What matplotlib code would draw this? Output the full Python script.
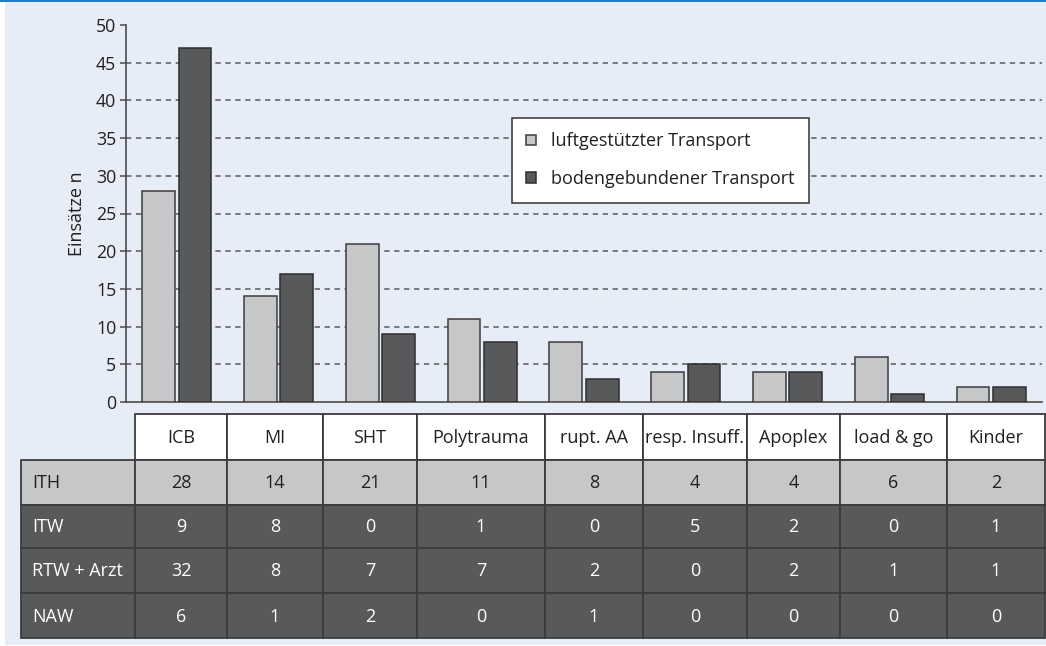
import matplotlib
matplotlib.use("Agg")
import matplotlib.pyplot as plt
from matplotlib.patches import Rectangle
import numpy as np

plt.rcParams['font.family'] = ['Open Sans', 'DejaVu Sans']

# Diagnoses and transport counts
categories = ["ICB", "MI", "SHT", "Polytrauma", "rupt. AA", "resp. Insuff.",
              "Apoplex", "load & go", "Kinder"]
ith = [28, 14, 21, 11, 8, 4, 4, 6, 2]
itw = [9, 8, 0, 1, 0, 5, 2, 0, 1]
rtw_arzt = [32, 8, 7, 7, 2, 0, 2, 1, 1]
naw = [6, 1, 2, 0, 1, 0, 0, 0, 0]
row_labels = ["ITH", "ITW", "RTW + Arzt", "NAW"]
series_labels = ["luftgestützter Transport", "bodengebundener Transport"]
yticks = [0, 5, 10, 15, 20, 25, 30, 35, 40, 45, 50]

air = np.array(ith)
ground = np.array(itw) + np.array(rtw_arzt) + np.array(naw)

W, H = 1046, 646
LIGHT = "#c6c7c9"
DARK = "#58595b"
BG = "#e6edf7"
EDGE = "#3c3c3e"
TXT = "#231f20"

fig = plt.figure(figsize=(W / 100, H / 100), dpi=100)
fig.patch.set_facecolor("white")

# Panel background and top rule (pixel coordinates)
canvas = fig.add_axes([0, 0, 1, 1], zorder=0)
canvas.set_xlim(0, W)
canvas.set_ylim(H, 0)
canvas.axis("off")
canvas.add_patch(Rectangle((5, 2), W - 5, H - 3, facecolor=BG, edgecolor="none"))
canvas.add_patch(Rectangle((0, 0), W, 2.2, facecolor="#1f7bc4", edgecolor="none"))

# Bar chart
ax = fig.add_axes([126 / W, 1 - 402 / H, (1042 - 126) / W, (402 - 25) / H], zorder=1)
ax.patch.set_alpha(0)
x = np.arange(len(categories))
bw = 0.322
off = 0.178
ax.bar(x - off, air, bw, color=LIGHT, edgecolor=EDGE, linewidth=1.1,
       label=series_labels[0], zorder=3)
ax.bar(x + off, ground, bw, color=DARK, edgecolor="#2e2e30", linewidth=1.1,
       label=series_labels[1], zorder=3)
ax.set_xlim(-0.5, len(categories) - 0.5)
ax.set_ylim(0, 50)
ax.set_yticks(yticks)
ax.set_xticks([])
for v in yticks[1:-1]:
    ax.axhline(v, color="#58595b", linewidth=1.1, linestyle=(0, (3.5, 3.0)), zorder=1)
for s in ["top", "right"]:
    ax.spines[s].set_visible(False)
for s in ["left", "bottom"]:
    ax.spines[s].set_color("#4a4a4c")
    ax.spines[s].set_linewidth(1.2)
ax.tick_params(axis="y", length=4, width=1.1, color="#4a4a4c", pad=3,
               labelsize=12.8, labelcolor=TXT)
ax.set_ylabel("Einsätze n", fontsize=13, color=TXT, labelpad=7)

leg = ax.legend(loc="upper left", bbox_to_anchor=((512 - 126) / (1042 - 126), (402 - 118) / (402 - 25)),
                frameon=True, fancybox=False, fontsize=13, handlelength=0.55,
                handleheight=0.55, handletextpad=0.8, labelspacing=1.1,
                borderpad=0.8, borderaxespad=0)
leg.get_frame().set_edgecolor("#333333")
leg.get_frame().set_linewidth(1.1)
leg.get_frame().set_facecolor("white")
leg.get_frame().set_alpha(1)
for t in leg.get_texts():
    t.set_color(TXT)
leg.set_zorder(5)

# Table below the chart
col_edges = [135, 227, 323, 417, 545, 643, 747, 840, 947, 1045]
row_edges = [414, 460, 505, 548, 593, 638]
label_left = 21
rows = [ith, itw, rtw_arzt, naw]
tab = fig.add_axes([0, 0, 1, 1], zorder=2)
tab.set_xlim(0, W)
tab.set_ylim(H, 0)
tab.axis("off")
lw = 1.3
fs = 13

for j, name in enumerate(categories):
    x0, x1 = col_edges[j], col_edges[j + 1]
    y0, y1 = row_edges[0], row_edges[1]
    tab.add_patch(Rectangle((x0, y0), x1 - x0, y1 - y0, facecolor="white",
                            edgecolor=EDGE, linewidth=lw))
    tab.text((x0 + x1) / 2, (y0 + y1) / 2 + 1, name, ha="center", va="center",
             fontsize=fs, color=TXT)

for i, (lab, vals) in enumerate(zip(row_labels, rows)):
    y0, y1 = row_edges[i + 1], row_edges[i + 2]
    fc = LIGHT if i == 0 else DARK
    tc = TXT if i == 0 else "white"
    tab.add_patch(Rectangle((label_left, y0), col_edges[0] - label_left, y1 - y0,
                            facecolor=fc, edgecolor=EDGE, linewidth=lw))
    tab.text(label_left + 11, (y0 + y1) / 2 + 1, lab, ha="left", va="center",
             fontsize=fs, color=tc)
    for j, v in enumerate(vals):
        x0, x1 = col_edges[j], col_edges[j + 1]
        tab.add_patch(Rectangle((x0, y0), x1 - x0, y1 - y0, facecolor=fc,
                                edgecolor=EDGE, linewidth=lw))
        tab.text((x0 + x1) / 2, (y0 + y1) / 2 + 1, str(v), ha="center", va="center",
                 fontsize=fs, color=tc)

fig.savefig("out.png", dpi=100, facecolor=fig.get_facecolor())
